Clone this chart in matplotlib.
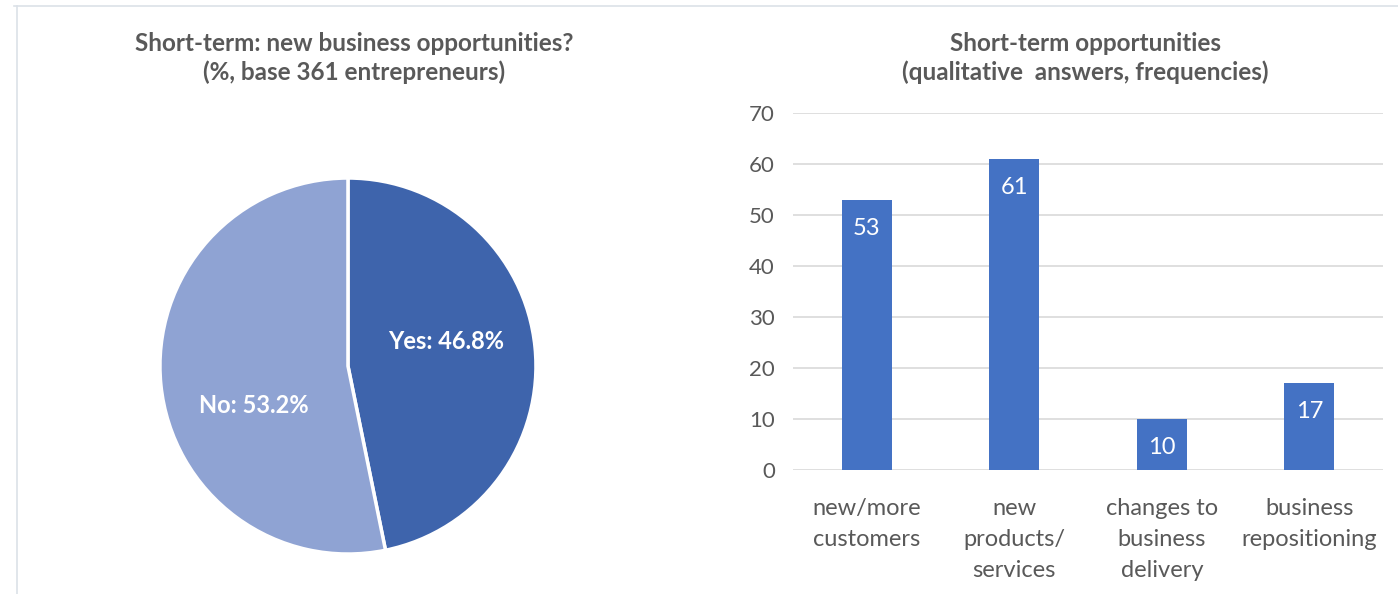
import matplotlib.pyplot as plt
from matplotlib.lines import Line2D

plt.rcParams['font.family'] = ['Lato', 'DejaVu Sans']

# pie data
pie_labels = ["Yes", "No"]
pie_values = [46.8, 53.2]
pie_colors = ["#3E64AC", "#8FA3D3"]

# bar data
categories = ["new/more\ncustomers", "new\nproducts/\nservices",
              "changes to\nbusiness\ndelivery", "business\nrepositioning"]
frequencies = [53, 61, 10, 17]
y_ticks = [0, 10, 20, 30, 40, 50, 60, 70]

text_gray = "#595959"
grid_gray = "#D9D9D9"

fig = plt.figure(figsize=(13.98, 5.94), dpi=100)

# light frame lines of the chart area
fig.add_artist(Line2D([14 / 1398, 1], [1 - 6 / 594, 1 - 6 / 594],
                      transform=fig.transFigure, color="#DCE1E8", lw=1.2))
fig.add_artist(Line2D([17 / 1398, 17 / 1398], [0, 1 - 6 / 594],
                      transform=fig.transFigure, color="#DCE1E8", lw=1.2))

# ---- pie ----
ax1 = fig.add_axes([0.1144, 0.0673, 0.269, 0.633])
wedges, _ = ax1.pie(pie_values, colors=pie_colors, startangle=90, counterclock=False,
                    wedgeprops=dict(edgecolor="white", linewidth=2.5))
ax1.set_xlim(-1, 1)
ax1.set_ylim(-1, 1)
ax1.set_aspect("equal")
ax1.text(0.52, 0.13, f"{pie_labels[0]}: {pie_values[0]}%", color="white",
         fontsize=17, fontweight="bold", ha="center", va="center")
ax1.text(-0.50, -0.21, f"{pie_labels[1]}: {pie_values[1]}%", color="white",
         fontsize=17, fontweight="bold", ha="center", va="center")
fig.text(354 / 1398, 1 - 58 / 594,
         "Short-term: new business opportunities?\n(%, base 361 entrepreneurs)",
         ha="center", va="center", fontsize=17.5, fontweight="bold",
         color=text_gray, linespacing=1.3)

# ---- bars ----
ax2 = fig.add_axes([793 / 1398, 0.2088, 590 / 1398, 0.601])
x = range(len(categories))
bars = ax2.bar(x, frequencies, width=0.34, color="#4472C4", zorder=3)
for xi, v in zip(x, frequencies):
    ax2.text(xi, v - 5.6, str(v), ha="center", va="center", color="white", fontsize=17)
ax2.set_xlim(-0.5, 3.5)
ax2.set_ylim(0, 70)
ax2.set_yticks(y_ticks)
ax2.yaxis.grid(True, color=grid_gray, lw=1.2, zorder=0)
ax2.set_axisbelow(True)
for s in ax2.spines.values():
    s.set_visible(False)
ax2.tick_params(axis="y", length=0, pad=13, labelsize=16, labelcolor=text_gray)
ax2.tick_params(axis="x", length=0, pad=20, labelsize=17, labelcolor=text_gray)
ax2.set_xticks(list(x))
ax2.set_xticklabels(categories, linespacing=1.6)
fig.text(1085 / 1398, 1 - 58 / 594,
         "Short-term opportunities\n(qualitative  answers, frequencies)",
         ha="center", va="center", fontsize=17.5, fontweight="bold",
         color=text_gray, linespacing=1.3)

fig.savefig("out.png", dpi=100)
